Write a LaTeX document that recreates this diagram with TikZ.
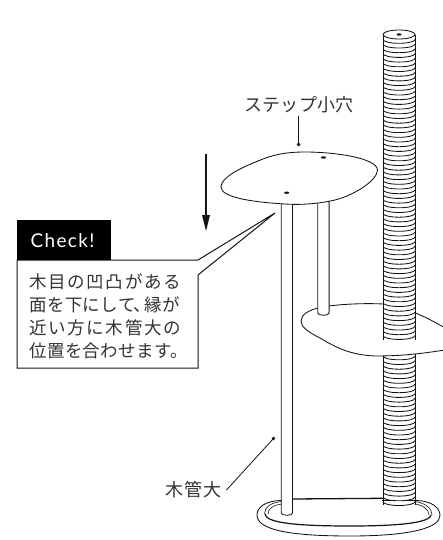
\documentclass[tikz,border=0pt]{standalone}
\usepackage{fontspec}
\usetikzlibrary{shapes.geometric}
\newfontfamily\jpwidetext[LetterSpace=9]{Noto Sans CJK JP}
\newfontfamily\jptext[LetterSpace=1.5]{Noto Sans CJK JP}
\newfontfamily\jplabel[LetterSpace=0.5]{Noto Sans CJK JP}
\newfontfamily\jpwide[LetterSpace=8]{Noto Sans CJK JP}
\newfontfamily\checkfont[LetterSpace=7]{Lato}
\definecolor{ink}{HTML}{141414}
\definecolor{txt}{HTML}{333333}
\tikzset{
  outline/.style={draw=ink,line width=0.85pt,line join=round},
  ringline/.style={draw=ink,line width=0.85pt},
  leader/.style={draw=ink,line width=0.8pt},
  dotmark/.style={circle,fill=ink,inner sep=0pt,minimum size=3.8pt},
  holemark/.style={fill=ink,ellipse,inner sep=0pt,minimum width=5pt,minimum height=2.4pt},
  labeltext/.style={text=txt,font=\jplabel\fontsize{18}{20}\selectfont,inner sep=0pt},
  widelabel/.style={text=txt,font=\jpwide\fontsize{18}{20}\selectfont,inner sep=0pt},
  boxline/.style={text=txt,inner sep=0pt,anchor=west},
  lineA/.style={boxline,font=\jpwidetext\fontsize{17.5}{20}\selectfont},
  lineB/.style={boxline,font=\jptext\fontsize{17.5}{20}\selectfont},
}
\begin{document}
\begin{tikzpicture}[x=1pt,y=-1pt]
\useasboundingbox (0,0) rectangle (443,540);
\fill[white] (0,0) rectangle (443,540);
\begin{scope}
\clip (0,0) rectangle (443,540);
% base
\path[outline,fill=white] (257,515)
  .. controls (257,507) and (266,501) .. (280,500.5)
  -- (417,500.5)
  .. controls (432,501) and (440,508) .. (440,515.5)
  .. controls (440,528) and (410,536) .. (350,536)
  .. controls (290,536) and (257,530) .. (257,515) -- cycle;
\path[draw=white,line width=2pt] (293,500.5) -- (382,500.5);
\path[draw=ink,line width=0.6pt] (264.5,514)
  .. controls (264.5,507) and (271,502.5) .. (282,501.5);
\path[draw=ink,line width=0.6pt] (268,514)
  .. controls (268,509) and (273,505) .. (282,504);
\path[draw=ink,line width=0.6pt] (432,515)
  .. controls (432,509) and (426,503) .. (415,501.5);
\path[draw=ink,line width=0.6pt] (429,515)
  .. controls (429,510) and (424,505.5) .. (415,504);
\path[draw=ink,line width=1.2pt] (265,514)
  .. controls (266,522) and (290,526) .. (350,526)
  .. controls (405,526) and (430,522) .. (431,515);
\path[draw=ink,line width=1.3pt] (292,499) -- (383,498.3);
% pole, lower part
\foreach \yy in {356,360.7,...,505}{
  \path[ringline,fill=white] (383,\yy) arc[start angle=180,end angle=0,x radius=16,y radius=3.8];
}
\draw[ringline] (383,350) -- (383,505) (415,350) -- (415,505);
% middle platform
\path[outline,fill=white] (301,321)
  .. controls (301,314) and (310,310) .. (318,308)
  .. controls (335,304) and (365,303) .. (383,304)
  .. controls (400,305) and (425,316) .. (445,328)
  -- (445,350)
  .. controls (425,353) and (405,356) .. (375,356)
  .. controls (350,355) and (335,347) .. (320,338)
  .. controls (308,332) and (301,327) .. (301,321) -- cycle;
% pole, upper part
\path[fill=white] (383,34) rectangle (415,343);
\foreach \yy in {39.5,44.2,...,340}{
  \path[ringline,fill=white] (383,\yy) arc[start angle=180,end angle=0,x radius=16,y radius=3.8];
}
\draw[ringline] (383,35) -- (383,340) (415,35) -- (415,340);
\path[ringline,fill=white] (383,34.5) arc[start angle=180,end angle=-180,x radius=16,y radius=4.5];
\node[holemark] (polehole) at (399,34.5) {};
% tubes
\path[outline,fill=white] (281.3,200) -- (281.3,513) arc[start angle=180,end angle=0,x radius=5.6,y radius=2.3] -- (292.5,200) -- cycle;
\path[outline,fill=white] (317.7,196) -- (317.7,313) arc[start angle=180,end angle=0,x radius=5.7,y radius=2.3] -- (329.1,196) -- cycle;
% top platform
\path[outline,fill=white] (221,187)
  .. controls (221,178) and (238,169) .. (258,161)
  .. controls (272,155) and (285,152) .. (305,152)
  .. controls (335,152) and (377,158) .. (377.5,170)
  .. controls (377.5,180) and (355,195) .. (335,200)
  .. controls (318,204) and (300,205) .. (285,204)
  .. controls (250,202) and (221,197) .. (221,187) -- cycle;
\node[holemark] (hole1) at (323.5,157.5) {};
\node[holemark] (hole2) at (286.7,192.7) {};
\end{scope}
% push arrow
\coordinate (pushA) at (206,154);
\coordinate (pushB) at (206,216);
\draw[draw=ink,line width=1.1pt] (pushA) -- (pushB);
\fill[ink] (202,215) -- (210,215) -- (206,231) -- cycle;
% step label
\node[labeltext] (steplabel) at (299,104.5) {ステップ小穴};
\node[dotmark] (stepdot) at (298.6,144.5) {};
\coordinate (stepstart) at (298.6,116.5);
\draw[leader] (stepstart) -- (stepdot.center);
% tube label
\node[widelabel] (tubelabel) at (193.5,490) {木管大};
\node[dotmark] (tubedot) at (273.5,438.5) {};
\coordinate (tubestart) at (226.5,490);
\draw[leader] (tubestart) -- (tubedot.center);
% callout
\coordinate (tip) at (275,213);
\path[draw=ink,line width=1pt,fill=white] (17,260) -- (198,260) -- (tip) -- (198,275) -- (198,368) -- (17,368) -- cycle;
\node[fill=black,minimum width=94pt,minimum height=40.5pt,inner sep=0pt,anchor=north west] (checkbox) at (17,219.5) {};
\node[text=white,font=\checkfont\fontsize{19}{20}\selectfont,inner sep=0pt] (checktext) at (62.5,240.5) {Check!};
\node[lineA] (body1) at (29.5,281.5) {木目の凹凸がある};
\node[lineB] (body2) at (29.5,304.5) {面を下にして\kern-2pt、\kern-6pt 縁が};
\node[lineA] (body3) at (29.5,328) {近い方に木管大の};
\node[lineB] (body4) at (29.5,351) {位置を合わせます。};
\end{tikzpicture}
\end{document}
